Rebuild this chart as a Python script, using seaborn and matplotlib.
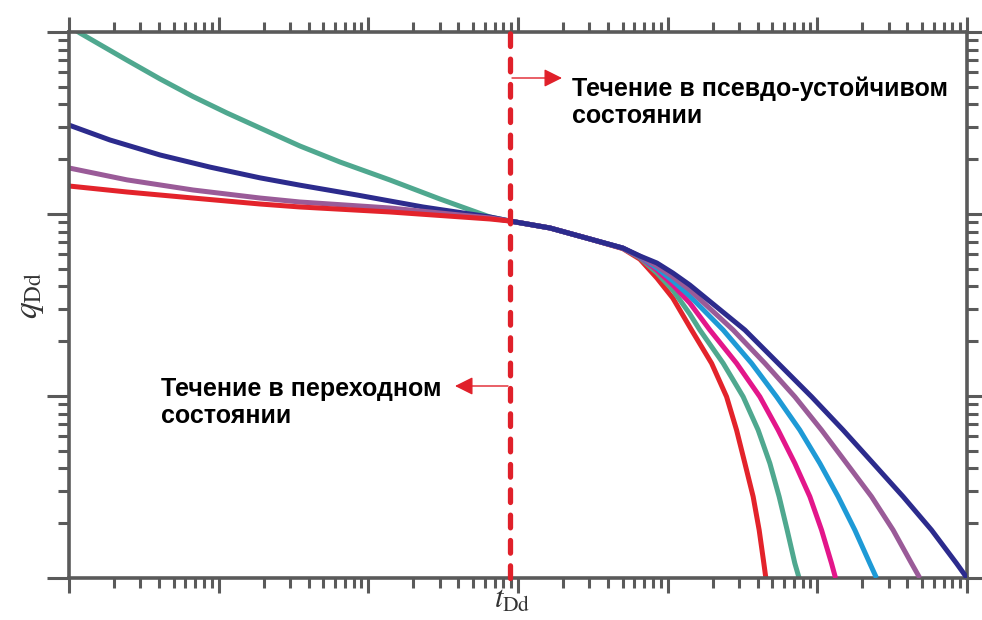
import numpy as np
import pandas as pd
import matplotlib
matplotlib.use("Agg")
import matplotlib.pyplot as plt
import matplotlib.ticker as mticker
import seaborn as sns

# ---------------- data ----------------
# transient part (left of the dashed line)
t_left_teal = [0.001, 0.001184, 0.00244, 0.00406, 0.00674, 0.01136, 0.01888, 0.0349, 0.0646, 0.1394, 0.3008, 0.649, 0.883]
q_left_teal = [1.08, 0.987, 0.700, 0.552, 0.442, 0.359, 0.297, 0.2364, 0.1931, 0.1538, 0.1209, 0.0963, 0.0915]

t_left_navy = [0.001, 0.00188, 0.00406, 0.00875, 0.01888, 0.0349, 0.0839, 0.2316, 0.649, 0.883]
q_left_navy = [0.308, 0.255, 0.211, 0.181, 0.158, 0.144, 0.1272, 0.1093, 0.0963, 0.0915]

t_left_purple = [0.001, 0.00244, 0.00674, 0.01888, 0.0349, 0.1394, 0.649, 0.883]
q_left_purple = [0.179, 0.154, 0.1355, 0.1224, 0.1164, 0.1079, 0.0951, 0.0915]

t_left_red = [0.001, 0.00244, 0.00674, 0.01888, 0.0349, 0.1394, 0.649, 0.883]
q_left_red = [0.1425, 0.1321, 0.1224, 0.1135, 0.1093, 0.1026, 0.0939, 0.0915]

# pseudo-steady part (right of the dashed line)
t_right_red = [0.883, 1.634, 3.022, 5.02, 6.52, 8.47, 10.83, 14.44, 19.65, 24.75, 28.86, 32.8, 37.25, 40.86, 43.92, 45.29]
q_right_red = [0.0915, 0.0838, 0.0729, 0.0645, 0.0565, 0.0445, 0.0345, 0.02305, 0.01513, 0.00991, 0.0065, 0.00427, 0.0028, 0.001835, 0.001204, 0.001]

t_right_teal = [0.883, 1.634, 3.022, 5.02, 6.52, 8.47, 10.83, 14.07, 16.41, 23.49, 31.94, 40.23, 48.17, 55.57, 62.85, 70.74, 75.55]
q_right_teal = [0.0915, 0.0838, 0.0729, 0.0648, 0.0575, 0.0474, 0.0382, 0.0282, 0.02305, 0.01513, 0.00991, 0.0065, 0.00427, 0.0028, 0.001835, 0.001204, 0.001]

t_right_magenta = [0.883, 1.634, 3.022, 5.02, 6.52, 8.47, 10.83, 14.07, 19.14, 28.86, 41.29, 54.72, 70.74, 89.12, 106.7, 124.4, 132.3]
q_right_magenta = [0.0915, 0.0838, 0.0729, 0.0649, 0.0580, 0.0492, 0.0407, 0.0324, 0.02305, 0.01513, 0.00991, 0.0065, 0.00427, 0.0028, 0.001835, 0.001204, 0.001]

t_right_cyan = [0.883, 1.634, 3.022, 5.02, 6.52, 8.47, 10.83, 14.07, 23.49, 36.35, 53.41, 76.4, 103.9, 137.7, 178.1, 224.2, 248.6]
q_right_cyan = [0.0915, 0.0838, 0.0729, 0.0650, 0.0583, 0.0505, 0.0429, 0.0354, 0.02305, 0.01513, 0.00991, 0.0065, 0.00427, 0.0028, 0.001835, 0.001204, 0.001]

t_right_purple = [0.883, 1.634, 3.022, 5.02, 6.52, 8.47, 10.83, 14.07, 27.39, 44.6, 70.74, 106.7, 156.7, 230.2, 320.8, 425.9, 483.8]
q_right_purple = [0.0915, 0.0838, 0.0729, 0.0650, 0.0586, 0.0518, 0.0451, 0.0382, 0.02305, 0.01513, 0.00991, 0.0065, 0.00427, 0.0028, 0.001835, 0.001204, 0.001]

t_right_navy = [0.883, 1.634, 3.022, 5.02, 6.52, 8.47, 10.83, 14.07, 32.8, 54.72, 91.5, 148.7, 235.9, 374.2, 579.3, 850.9, 1000.0]
q_right_navy = [0.0915, 0.0838, 0.0729, 0.0650, 0.0588, 0.0538, 0.0474, 0.0407, 0.02305, 0.01513, 0.00991, 0.0065, 0.00427, 0.0028, 0.001835, 0.001204, 0.001]

t_boundary = 0.883

label_right = "Течение в псевдо-устойчивом\nсостоянии"
label_left = "Течение в переходном\nсостоянии"

# ---------------- styling ----------------
colors = {
    "teal": "#4fa88f",
    "navy": "#2c2b8d",
    "purple": "#9a5b98",
    "red": "#e3232b",
    "magenta": "#e3168a",
    "cyan": "#1e9ad6",
}
axis_grey = "#5a5a5a"

series = [
    ("L_teal", "teal", t_left_teal, q_left_teal),
    ("L_navy", "navy", t_left_navy, q_left_navy),
    ("L_purple", "purple", t_left_purple, q_left_purple),
    ("L_red", "red", t_left_red, q_left_red),
    ("R_red", "red", t_right_red, q_right_red),
    ("R_teal", "teal", t_right_teal, q_right_teal),
    ("R_magenta", "magenta", t_right_magenta, q_right_magenta),
    ("R_cyan", "cyan", t_right_cyan, q_right_cyan),
    ("R_purple", "purple", t_right_purple, q_right_purple),
    ("R_navy", "navy", t_right_navy, q_right_navy),
]

rows = []
for name, col, ts, qs in series:
    for t, q in zip(ts, qs):
        rows.append({"t": t, "q": q, "curve": name})
df = pd.DataFrame(rows)

sns.set_style("white")
plt.rcParams["mathtext.fontset"] = "stix"

W, H = 982, 620
fig = plt.figure(figsize=(W / 100, H / 100), dpi=100)
ax = fig.add_axes([69 / W, 1 - 578 / H, (967 - 69) / W, (578 - 32) / H])

ax.set_xscale("log")
ax.set_yscale("log")

for i, (name, col, ts, qs) in enumerate(series):
    sub = df[df["curve"] == name]
    sns.lineplot(data=sub, x="t", y="q", color=colors[col], lw=3.6,
                 estimator=None, sort=False, ax=ax, legend=False, zorder=2 + i * 0.1)
for ln in ax.get_lines():
    ln.set_solid_joinstyle("round")
    ln.set_solid_capstyle("butt")

ax.set_xlim(1e-3, 1e3)
ax.set_ylim(1e-3, 1.0)

# dashed boundary
ax.axvline(t_boundary, color="#e0202a", lw=3.8, linestyle=(0, (2.4, 2.4)),
           dash_capstyle="round", zorder=5, clip_on=False)

# axes styling
for sp in ax.spines.values():
    sp.set_color(axis_grey)
    sp.set_linewidth(2.6)
    sp.set_visible(True)
ax.xaxis.set_major_locator(mticker.LogLocator(base=10, numticks=20))
ax.xaxis.set_minor_locator(mticker.LogLocator(base=10, subs=np.arange(2, 10), numticks=20))
ax.yaxis.set_major_locator(mticker.LogLocator(base=10, numticks=20))
ax.yaxis.set_minor_locator(mticker.LogLocator(base=10, subs=np.arange(2, 10), numticks=20))
ax.tick_params(which="both", direction="out", top=True, right=True, bottom=True, left=True,
               color=axis_grey, labelbottom=False, labelleft=False,
               labeltop=False, labelright=False)
ax.tick_params(axis="x", which="major", length=11, width=2.2)
ax.tick_params(axis="x", which="minor", length=7, width=2.2)
ax.tick_params(axis="y", which="major", length=16, width=2.2)
ax.tick_params(axis="y", which="minor", length=8, width=2.2)
ax.set_xlabel("")
ax.set_ylabel("")

# axis labels
fig.text(30 / W, 1 - 295 / H, r"$q_{\mathrm{Dd}}$", rotation=90, fontsize=24,
         ha="center", va="center", color="#333333")
fig.text(512 / W, 1 - 608 / H, r"$t_{\mathrm{Dd}}$", fontsize=22,
         ha="center", va="baseline", color="#333333")

# annotation texts
fig.text(572 / W, 1 - 123 / H, label_right, fontsize=18, fontweight="bold",
         family=["Liberation Sans", "DejaVu Sans"], ha="left", va="baseline",
         linespacing=1.15, color="black")
fig.text(161 / W, 1 - 423 / H, label_left, fontsize=18, fontweight="bold",
         family=["Liberation Sans", "DejaVu Sans"], ha="left", va="baseline",
         linespacing=1.15, color="black")

arrow_kw = dict(arrowstyle="-|>,head_length=1.1,head_width=0.55", color="#e0202a", lw=1.0,
                shrinkA=0, shrinkB=0)
ax.annotate("", xy=(562 / W, 1 - 78 / H), xytext=(512 / W, 1 - 78 / H),
            xycoords="figure fraction", textcoords="figure fraction", arrowprops=arrow_kw)
ax.annotate("", xy=(455 / W, 1 - 386 / H), xytext=(508 / W, 1 - 386 / H),
            xycoords="figure fraction", textcoords="figure fraction", arrowprops=arrow_kw)

fig.savefig("out.png", dpi=100)
